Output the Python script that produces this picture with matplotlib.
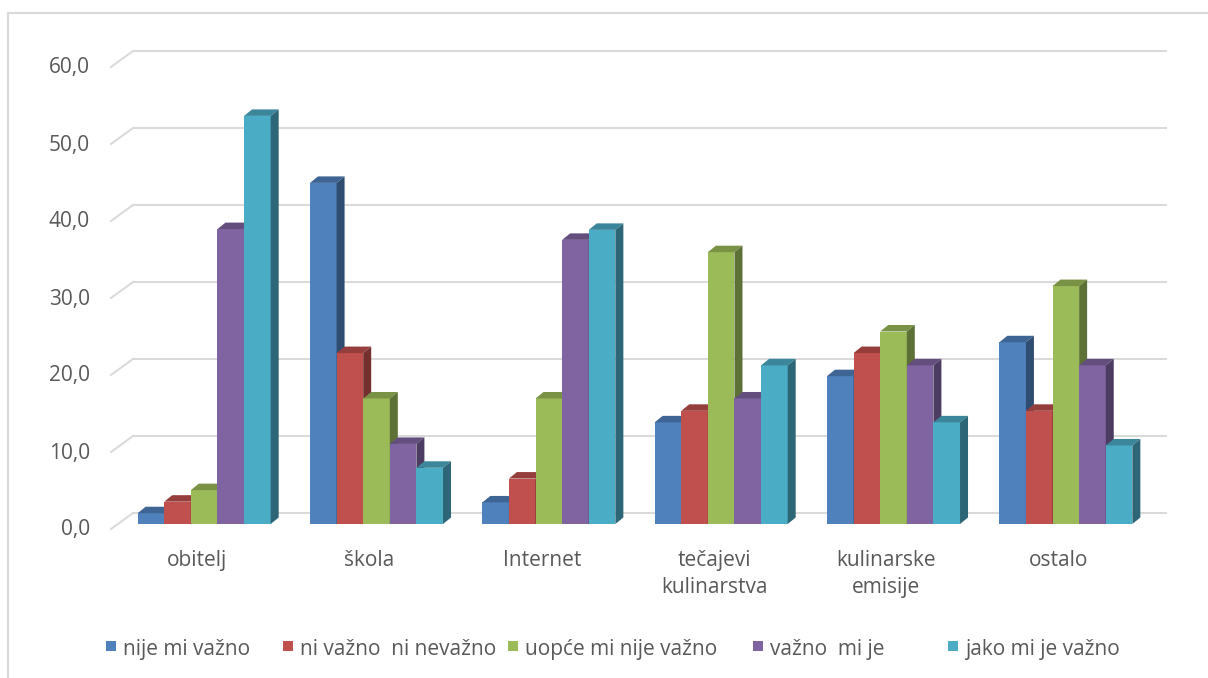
import matplotlib
matplotlib.use("Agg")
import matplotlib.pyplot as plt
import numpy as np
from matplotlib.patches import Polygon, Rectangle
from matplotlib.lines import Line2D
from matplotlib.colors import to_rgb

# ---- data -------------------------------------------------------------
categories = ["obitelj", "škola", "Internet", "tečajevi\nkulinarstva",
              "kulinarske\nemisije", "ostalo"]
series_names = ["nije mi važno", "ni važno  ni nevažno", "uopće mi nije važno",
                "važno  mi je", "jako mi je važno"]
nije_mi_vazno = [1.4, 44.3, 2.8, 13.2, 19.2, 23.6]
ni_vazno_ni_nevazno = [2.9, 22.2, 5.9, 14.7, 22.2, 14.7]
uopce_mi_nije_vazno = [4.4, 16.3, 16.3, 35.3, 25.0, 30.9]
vazno_mi_je = [38.3, 10.4, 36.9, 16.3, 20.6, 20.6]
jako_mi_je_vazno = [53.0, 7.3, 38.2, 20.6, 13.2, 10.2]
series_values = [nije_mi_vazno, ni_vazno_ni_nevazno, uopce_mi_nije_vazno,
                 vazno_mi_je, jako_mi_je_vazno]
y_ticks = [0, 10, 20, 30, 40, 50, 60]
y_tick_labels = ["0,0", "10,0", "20,0", "30,0", "40,0", "50,0", "60,0"]

colors = ["#4F81BD", "#C0504D", "#9BBB59", "#8064A2", "#4BACC6"]

# ---- figure / axes geometry (pixels) -----------------------------------
W, H = 1208, 678
DPI = 100
FONT = "Open Sans"
FS = 15
TXT = "#595959"
GRID = "#D9D9D9"

fig = plt.figure(figsize=(W / DPI, H / DPI), dpi=DPI)
fig.patch.set_facecolor("white")

# plane of the bar front faces
px_left, px_right = 118, 1152
px_base, px_scale = 524, 7.7          # pixel row of value 0, pixels per unit
ymax = 60
px_top = px_base - px_scale * ymax
ax = fig.add_axes([px_left / W, (H - px_base) / H,
                   (px_right - px_left) / W, (px_base - px_top) / H])
n_cat = len(categories)
ax.set_xlim(-0.5, n_cat - 0.5)
ax.set_ylim(0, ymax)
ax.axis("off")

cat_px = (px_right - px_left) / n_cat


def dx(p):   # pixel offset -> x data units
    return p / cat_px


def dy(p):   # pixel offset (upwards) -> y data units
    return p / px_scale


def shade(c, f):
    r, g, b = to_rgb(c)
    return (r * f, g * f, b * f)


# offsets of the front plane and of the back wall relative to the bar plane
front_off = (dx(-7), dy(-5))
back_off = (dx(15), dy(11))
x0 = -0.5
x1 = n_cat - 0.5

# back wall gridlines and side-wall diagonals
for v in y_ticks:
    ax.add_line(Line2D([x0 + back_off[0], x1 + back_off[0]],
                       [v + back_off[1], v + back_off[1]],
                       color=GRID, lw=1.4, zorder=1, solid_capstyle="butt",
                       clip_on=False))
    ax.add_line(Line2D([x0 + front_off[0], x0 + back_off[0]],
                       [v + front_off[1], v + back_off[1]],
                       color=GRID, lw=1.4, zorder=1, clip_on=False))

# bars with 3-D faces
n_ser = len(series_values)
cluster = 0.772
bw = cluster / n_ser
ddx, ddy = dx(8), dy(6.5)
z = 2
for ci in range(n_cat):
    for si in range(n_ser):
        h = series_values[si][ci]
        c = colors[si]
        left = ci - cluster / 2 + si * bw
        right = left + bw
        ax.bar(left, h, width=bw, align="edge", color=c, lw=0, zorder=z,
               clip_on=False)
        top = Polygon([(left, h), (right, h), (right + ddx, h + ddy),
                       (left + ddx, h + ddy)], closed=True,
                      facecolor=shade(c, 0.78), lw=0, zorder=z + 0.1,
                      clip_on=False)
        side = Polygon([(right, 0), (right + ddx, ddy), (right + ddx, h + ddy),
                        (right, h)], closed=True,
                       facecolor=shade(c, 0.6), lw=0, zorder=z + 0.1,
                       clip_on=False)
        ax.add_patch(top)
        ax.add_patch(side)
        z += 0.2

# y tick labels on the front plane
for v, lab in zip(y_ticks, y_tick_labels):
    ax.text(x0 + front_off[0] - dx(21), v + front_off[1] - dy(1), lab,
            ha="right", va="center", fontsize=FS, color=TXT, family=FONT)

# category labels
for ci, lab in enumerate(categories):
    ax.text(ci + front_off[0], front_off[1] - dy(21), lab, ha="center",
            va="top", fontsize=FS, color=TXT, family=FONT, linespacing=1.4,
            clip_on=False)

# legend
leg_base = 655
leg_marker_x = [106, 283, 508, 753, 948]
for name, c, mx in zip(series_names, colors, leg_marker_x):
    fig.add_artist(Rectangle((mx / W, (H - 651) / H), 10 / W, 10 / H,
                             transform=fig.transFigure, facecolor=c, lw=0))
    fig.text((mx + 17) / W, (H - leg_base) / H, name, ha="left",
             va="baseline", fontsize=FS, color=TXT, family=FONT)

# chart frame
fig.add_artist(Line2D([8 / W, 1], [(H - 13) / H] * 2, transform=fig.transFigure,
                      color=GRID, lw=1.5))
fig.add_artist(Line2D([8 / W] * 2, [0, (H - 13) / H], transform=fig.transFigure,
                      color=GRID, lw=1.5))

fig.savefig("out.png", dpi=DPI, facecolor="white")
